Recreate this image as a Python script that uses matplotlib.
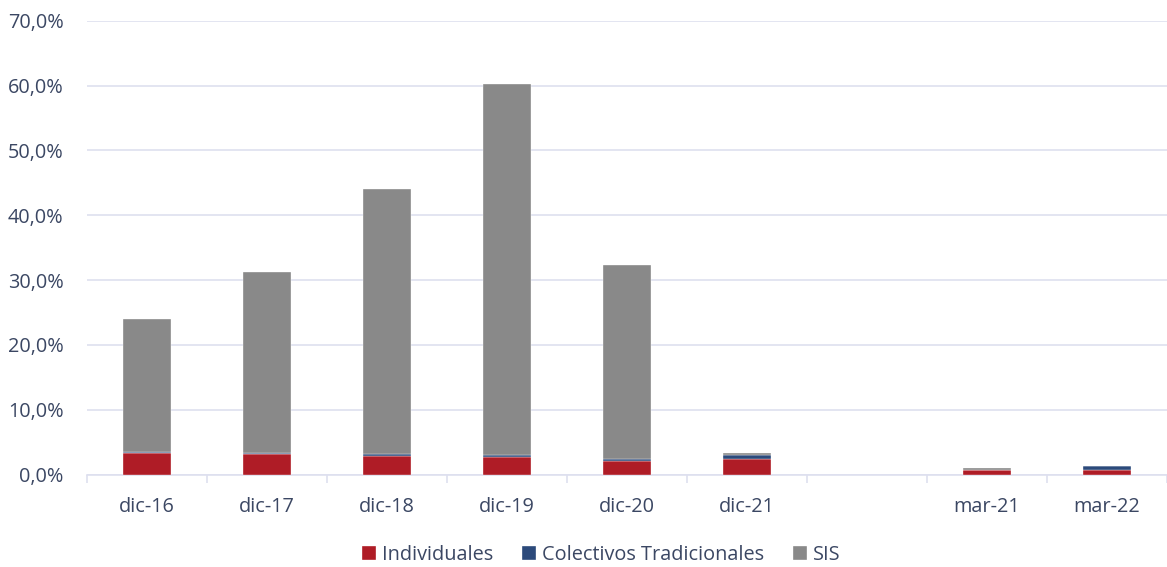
import numpy as np
import matplotlib.pyplot as plt
from matplotlib.ticker import FuncFormatter, FixedLocator, NullFormatter

# periodos (hay un hueco entre dic-21 y mar-21)
categorias = ["dic-16", "dic-17", "dic-18", "dic-19", "dic-20", "dic-21", "", "mar-21", "mar-22"]
individuales = [3.35, 3.15, 2.90, 2.75, 2.15, 2.45, np.nan, 0.74, 0.70]
colectivos = [0.05, 0.15, 0.26, 0.26, 0.26, 0.56, np.nan, 0.02, 0.62]
sis = [20.6, 28.0, 40.9, 57.3, 29.95, 0.30, np.nan, 0.20, 0.03]

c_ind = "#AF1C26"
c_col = "#2C4A7B"
c_sis = "#898989"
c_txt = "#3B4763"
c_grid = "#DEE0EF"

plt.rcParams["font.family"] = ["Open Sans", "DejaVu Sans"]
fs = 14.3

fig = plt.figure(figsize=(11.67, 5.67), dpi=100)
ax = fig.add_axes([0.0746, 0.1631, 0.9254, 0.8004])

x = np.arange(len(categorias))
ind = np.array(individuales)
col = np.array(colectivos)
s = np.array(sis)
w = 0.4
ax.bar(x, ind, w, color=c_ind, edgecolor="white", linewidth=0.25, label="Individuales", zorder=3)
ax.bar(x, col, w, bottom=ind, color=c_col, edgecolor="white", linewidth=0.25,
       label="Colectivos Tradicionales", zorder=3)
ax.bar(x, s, w, bottom=ind + col, color=c_sis, edgecolor="white", linewidth=0.25, label="SIS", zorder=3)

ax.set_xlim(-0.5, len(categorias) - 0.5)
ax.set_ylim(0, 70)
ax.set_yticks(np.arange(0, 71, 10))
ax.yaxis.set_major_formatter(FuncFormatter(lambda v, p: f"{v:.1f}%".replace(".", ",")))
ax.yaxis.grid(True, color=c_grid, linewidth=1.2, zorder=0)
ax.tick_params(axis="y", length=0, pad=17, colors=c_txt, labelsize=fs)

# etiquetas centradas, marcas en los limites de categoria
ax.set_xticks(x)
ax.set_xticklabels(categorias)
ax.tick_params(axis="x", which="major", length=0, pad=16, colors=c_txt, labelsize=fs)
ax.xaxis.set_minor_locator(FixedLocator(np.arange(-0.5, len(categorias), 1.0)))
ax.xaxis.set_minor_formatter(NullFormatter())
ax.tick_params(axis="x", which="minor", length=6, width=1.2, color=c_grid)

for side in ["top", "right", "left"]:
    ax.spines[side].set_visible(False)
ax.spines["bottom"].set_color(c_grid)
ax.spines["bottom"].set_linewidth(1.2)

leg = fig.legend(loc="lower center", bbox_to_anchor=(0.515, -0.028), ncol=3, frameon=False,
                 fontsize=fs, handlelength=0.7, handleheight=0.7, handletextpad=0.3,
                 columnspacing=1.45)
for t in leg.get_texts():
    t.set_color(c_txt)

plt.savefig("out.png")
